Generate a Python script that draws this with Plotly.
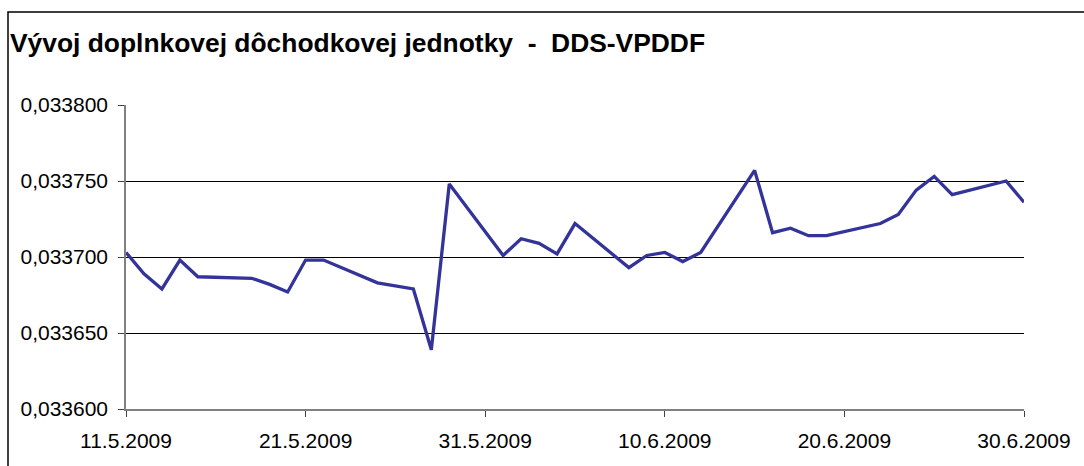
import plotly.graph_objects as go

dates = [
    "2009-05-11", "2009-05-12", "2009-05-13", "2009-05-14", "2009-05-15",
    "2009-05-18", "2009-05-19", "2009-05-20", "2009-05-21", "2009-05-22",
    "2009-05-25", "2009-05-26", "2009-05-27", "2009-05-28", "2009-05-29",
    "2009-06-01", "2009-06-02", "2009-06-03", "2009-06-04", "2009-06-05",
    "2009-06-08", "2009-06-09", "2009-06-10", "2009-06-11", "2009-06-12",
    "2009-06-15", "2009-06-16", "2009-06-17", "2009-06-18", "2009-06-19",
    "2009-06-22", "2009-06-23", "2009-06-24", "2009-06-25", "2009-06-26",
    "2009-06-29", "2009-06-30",
]
values = [
    0.033703, 0.033689, 0.033679, 0.033698, 0.033687,
    0.033686, 0.033682, 0.033677, 0.033698, 0.033698,
    0.033683, 0.033681, 0.033679, 0.033639, 0.033748,
    0.033701, 0.033712, 0.033709, 0.033702, 0.033722,
    0.033693, 0.033701, 0.033703, 0.033697, 0.033703,
    0.033757, 0.033716, 0.033719, 0.033714, 0.033714,
    0.033722, 0.033728, 0.033744, 0.033753, 0.033741,
    0.033750, 0.033736,
]

x_tick_vals = ["2009-05-11", "2009-05-21", "2009-05-31", "2009-06-10", "2009-06-20", "2009-06-30"]
x_tick_text = ["11.5.2009", "21.5.2009", "31.5.2009", "10.6.2009", "20.6.2009", "30.6.2009"]
y_tick_vals = [0.03360, 0.03365, 0.03370, 0.03375, 0.03380]
y_tick_text = ["0,033600", "0,033650", "0,033700", "0,033750", "0,033800"]

title_text = "Vývoj doplnkovej dôchodkovej jednotky  -  DDS-VPDDF"

fig = go.Figure()
fig.add_trace(go.Scatter(
    x=dates, y=values, mode="lines",
    line=dict(color="#333399", width=3.3),
    hoverinfo="x+y", showlegend=False,
))

W, H = 1084, 466
L, R, T, B = 126, 60, 105, 57
pw, ph = W - L - R, H - T - B

def px_x(px):
    return (px - L) / pw

def px_y(py):
    return (H - B - py) / ph

fig.update_layout(
    width=W, height=H,
    margin=dict(l=L, r=R, t=T, b=B),
    paper_bgcolor="white", plot_bgcolor="white",
    font=dict(family="Liberation Sans, Arial, sans-serif", color="black", size=21),
    title=dict(
        text="<b>" + title_text + "</b>",
        font=dict(family="Liberation Sans, Arial, sans-serif", size=26.4, color="black"),
        x=10 / W, xanchor="left", xref="container",
        y=1 - 43 / H, yanchor="middle", yref="container",
    ),
    xaxis=dict(
        type="date",
        range=["2009-05-11", "2009-06-30"],
        tickmode="array", tickvals=x_tick_vals, ticktext=x_tick_text,
        showgrid=False, zeroline=False,
        showline=True, linecolor="#808080", linewidth=1.5,
        ticks="outside", ticklen=6, tickcolor="#404040", tickwidth=1,
        ticklabelstandoff=6,
        tickfont=dict(size=21, color="black"),
    ),
    yaxis=dict(
        range=[0.03360, 0.03380],
        tickmode="array", tickvals=y_tick_vals, ticktext=y_tick_text,
        showgrid=True, gridcolor="black", gridwidth=1,
        zeroline=False,
        showline=True, linecolor="#808080", linewidth=1.5,
        ticks="outside", ticklen=6, tickcolor="#404040", tickwidth=1,
        ticklabelstandoff=6,
        tickfont=dict(size=21, color="black"),
    ),
    shapes=[
        dict(type="rect", xref="paper", yref="paper", layer="above",
             x0=px_x(8), x1=px_x(1150), y0=px_y(12), y1=px_y(520),
             fillcolor="rgba(0,0,0,0)",
             line=dict(color="black", width=1.5)),
    ],
)

fig.write_html("out.html", config={"displayModeBar": False},
               post_script="document.body.style.margin='0';")
